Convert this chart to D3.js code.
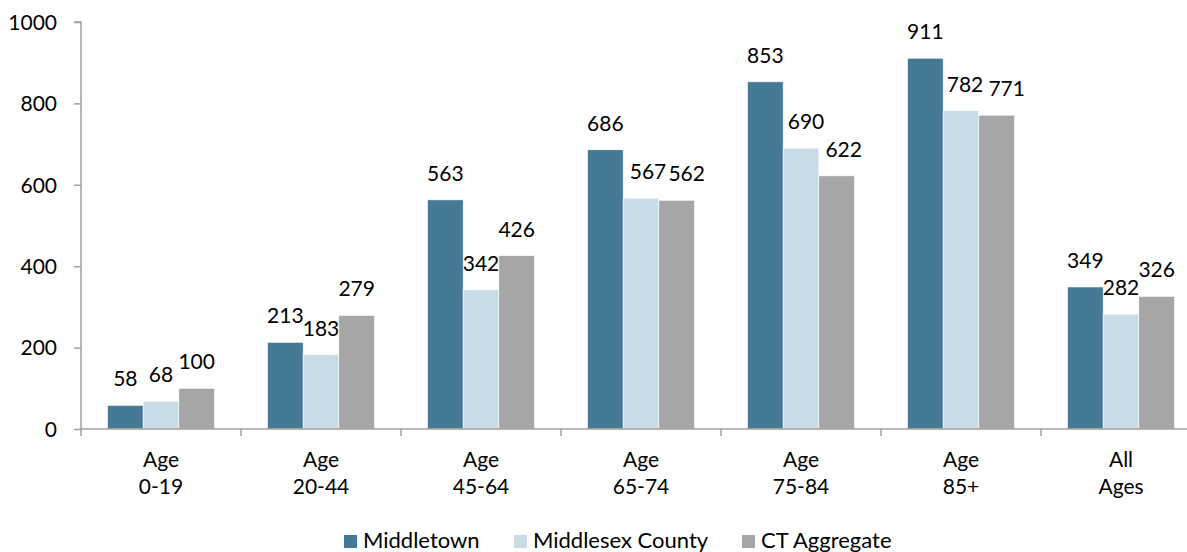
<!DOCTYPE html>
<html><head><meta charset="utf-8">
<script src="https://cdn.jsdelivr.net/npm/d3@7"></script>
<style>body{margin:0;background:#fff;} svg{display:block;} text{font-family:"Lato","Open Sans",sans-serif;fill:#000;}</style>
</head><body><svg id="c" width="1187" height="552"></svg>
<script>
const categories = [["Age","0-19"],["Age","20-44"],["Age","45-64"],["Age","65-74"],["Age","75-84"],["Age","85+"],["All","Ages"]];
const seriesNames = ["Middletown","Middlesex County","CT Aggregate"];
const middletown = [58,213,563,686,853,911,349];
const middlesex = [68,183,342,567,690,782,282];
const ctAggregate = [100,279,426,562,622,771,326];
const yTicks = [0,200,400,600,800,1000];
const colors = ["#457a96","#c9dce5","#a6a6a6"];

(function(){
const series = [middletown, middlesex, ctAggregate];
const svg = d3.select("#c");
const mLeft = 81, mTop = 22, mBottom = 429;
const fs = "21px";
const x0 = d3.scaleBand().domain(d3.range(categories.length)).range([mLeft, mLeft + 160*categories.length]).paddingInner(0).paddingOuter(0);
const x1 = d3.scaleBand().domain(d3.range(3)).range([26.5, 160-26.5]);
const y = d3.scaleLinear().domain([0,1000]).range([mBottom, mTop]);
// label nudges (as laid out in the original to avoid overlaps): key "group-series" -> px
const labelNudge = {"3-1":7,"3-2":10,"4-1":5,"4-2":7,"5-1":4,"5-2":10};

// y axis
const ya = svg.append("g").attr("transform",`translate(${mLeft},0)`)
  .call(d3.axisLeft(y).tickValues(yTicks).tickSize(7).tickPadding(17).tickFormat(d3.format("d")));
ya.select(".domain").attr("stroke","#a0a0a0").attr("stroke-width",1.5).attr("d",`M-7,${mTop}H0V${mBottom}`);
ya.selectAll(".tick line").attr("stroke","#a0a0a0").attr("stroke-width",1.5);
ya.selectAll(".tick text").style("font-size",fs).style("font-family","Lato").attr("fill","#000").attr("dy","0.35em");

// bars
const g = svg.append("g");
categories.forEach((c,i)=>{
  series.forEach((s,j)=>{
    const bx = x0(i) + x1(j), bw = x1.bandwidth();
    g.append("rect").attr("x",bx).attr("y",y(s[i])).attr("width",bw).attr("height",y(0)-y(s[i]))
      .attr("fill",colors[j]).attr("stroke","#fff").attr("stroke-width",0.6);
    const nudge = labelNudge[i+"-"+j] || 0;
    g.append("text").attr("x",bx+bw/2+nudge).attr("y",y(s[i])-19).attr("text-anchor","middle")
      .style("font-size",fs).text(s[i]);
  });
});

// x axis
const xa = svg.append("g").attr("transform",`translate(0,${mBottom})`);
xa.append("line").attr("x1",mLeft).attr("x2",1187).attr("y1",0).attr("y2",0).attr("stroke","#a0a0a0").attr("stroke-width",1.5);
d3.range(categories.length+1).forEach(i=>{
  const xx = mLeft + i*x0.step();
  xa.append("line").attr("x1",xx).attr("x2",xx).attr("y1",0).attr("y2",7).attr("stroke","#a0a0a0").attr("stroke-width",1.5);
});
categories.forEach((c,i)=>{
  const cx = x0(i)+x0.bandwidth()/2;
  xa.append("text").attr("x",cx).attr("y",38).attr("text-anchor","middle").style("font-size",fs).text(c[0]);
  xa.append("text").attr("x",cx).attr("y",65).attr("text-anchor","middle").style("font-size",fs).text(c[1]);
});

// legend
const legX = [344,514,742];
seriesNames.forEach((n,j)=>{
  svg.append("rect").attr("x",legX[j]).attr("y",535).attr("width",13).attr("height",13).attr("fill",colors[j]);
  svg.append("text").attr("x",legX[j]+19).attr("y",548).style("font-size","22px").text(n);
});
})();
</script></body></html>
